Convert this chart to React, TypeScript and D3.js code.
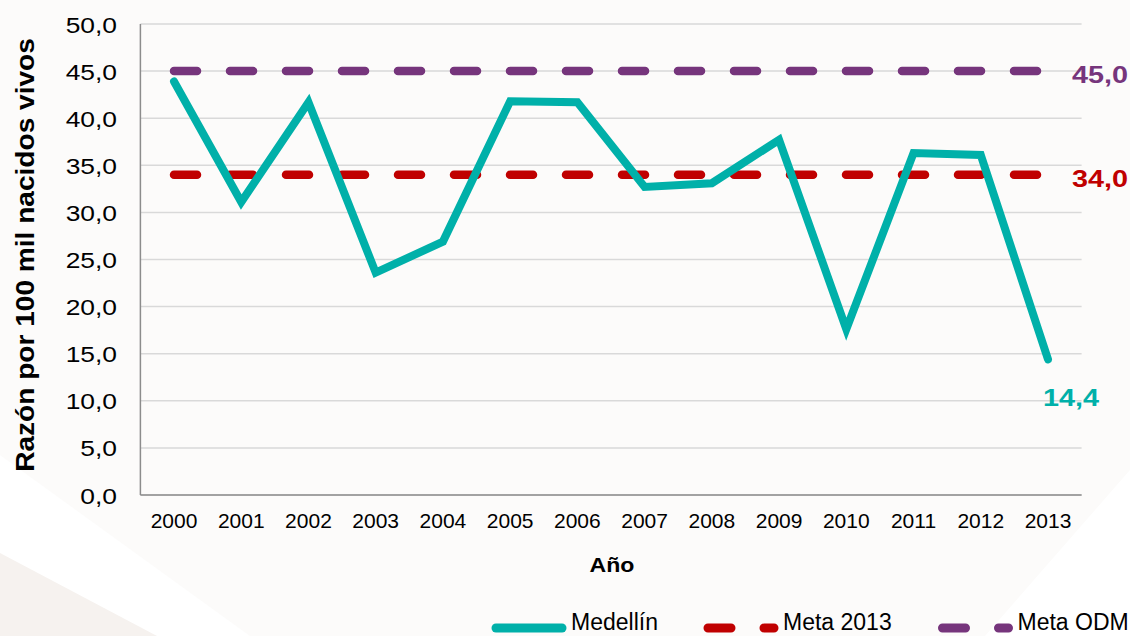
import React from "react";
import * as d3 from "d3";

const years = ["2000","2001","2002","2003","2004","2005","2006","2007","2008","2009","2010","2011","2012","2013"];
const medellin = [43.9, 31.1, 41.7, 23.6, 26.9, 41.8, 41.7, 32.7, 33.1, 37.7, 17.6, 36.3, 36.1, 14.4];
const meta2013 = 34.0;
const metaODM = 45.0;
const yTicks = [0, 5, 10, 15, 20, 25, 30, 35, 40, 45, 50];
const seriesNames = ["Medellín", "Meta 2013", "Meta ODM"];

const TEAL = "#00b0a9";
const RED = "#c00000";
const PURPLE = "#76357c";
const FONT = "'Liberation Sans', Arial, sans-serif";

const W = 1130, H = 636;
const left = 140.4, right = 1081.6, top = 24, bottom = 495;

const fmt = (v: number) => v.toFixed(1).replace(".", ",");

export default function App() {
  const x = d3.scalePoint<string>().domain(years).range([left, right]).padding(0.5);
  const y = d3.scaleLinear().domain([0, 50]).range([bottom, top]);
  const line = d3.line<number>().x((_, i) => x(years[i])!).y((d) => y(d));
  const x0 = x(years[0])!;
  const x1 = x(years[years.length - 1])!;
  const dash = "23 33";

  const legendLayout = [
    { x: 496, color: TEAL, dashed: false },
    { x: 708, color: RED, dashed: true },
    { x: 942.5, color: PURPLE, dashed: true },
  ];
  const legendY = 628;

  return (
    <svg width={W} height={H} style={{ position: "absolute", left: 0, top: 0 }} fontFamily={FONT}>
      <rect x={0} y={0} width={W} height={H} fill="#fcfbfa" />
      <polygon points="0,455 0,636 250,636" fill="#ffffff" />
      <polygon points="0,553 0,636 157,636" fill="#f6f2ef" />
      <polygon points="1130,470 1130,636 985,636" fill="#ffffff" />

      {yTicks.map((t) => (
        <line key={"g" + t} x1={left} x2={right} y1={y(t)} y2={y(t)} stroke="#d9d9d9" strokeWidth={1.5} />
      ))}
      <line x1={left} x2={left} y1={top} y2={bottom} stroke="#8c8c8c" strokeWidth={1.5} />
      <line x1={left} x2={right} y1={bottom} y2={bottom} stroke="#8c8c8c" strokeWidth={1.5} />

      {yTicks.map((t) => (
        <text key={"yt" + t} transform={`translate(117,${y(t) + 8.5}) scale(1.2,1)`} textAnchor="end" fontSize={22} fill="#000">
          {fmt(t)}
        </text>
      ))}
      {years.map((yr) => (
        <text key={"xt" + yr} x={x(yr)} y={528} textAnchor="middle" fontSize={21} fill="#000">
          {yr}
        </text>
      ))}

      <text transform="translate(612,572) scale(1.1,1)" textAnchor="middle" fontSize={21} fontWeight="bold" fill="#000">Año</text>
      <text transform="translate(34,255) rotate(-90) scale(1.08,1)" textAnchor="middle" fontSize={26} fontWeight="bold" fill="#000">
        Razón por 100 mil nacidos vivos
      </text>

      <line x1={x0} x2={x1} y1={y(metaODM)} y2={y(metaODM)} stroke={PURPLE} strokeWidth={8.5} strokeDasharray={dash} strokeLinecap="round" />
      <line x1={x0} x2={x1} y1={y(meta2013)} y2={y(meta2013)} stroke={RED} strokeWidth={8.5} strokeDasharray={dash} strokeLinecap="round" />
      <path d={line(medellin)!} fill="none" stroke={TEAL} strokeWidth={8} strokeLinejoin="miter" strokeLinecap="round" />

      <text transform={`translate(1072,${y(metaODM) + 12}) scale(1.2,1)`} fontSize={24} fontWeight="bold" fill={PURPLE}>{fmt(metaODM)}</text>
      <text transform={`translate(1072,${y(meta2013) + 12}) scale(1.2,1)`} fontSize={24} fontWeight="bold" fill={RED}>{fmt(meta2013)}</text>
      <text transform={`translate(1043,${y(medellin[medellin.length - 1]) + 47}) scale(1.2,1)`} fontSize={24} fontWeight="bold" fill={TEAL}>
        {fmt(medellin[medellin.length - 1])}
      </text>

      {seriesNames.map((n, i) => {
        const L = legendLayout[i];
        return (
          <g key={n}>
            <line x1={L.x} x2={L.x + 66} y1={legendY} y2={legendY} stroke={L.color} strokeWidth={9} strokeLinecap="round" strokeDasharray={L.dashed ? dash : undefined} />
            <text x={L.x + 75} y={630} fontSize={23} fill="#000">{n}</text>
          </g>
        );
      })}
    </svg>
  );
}
